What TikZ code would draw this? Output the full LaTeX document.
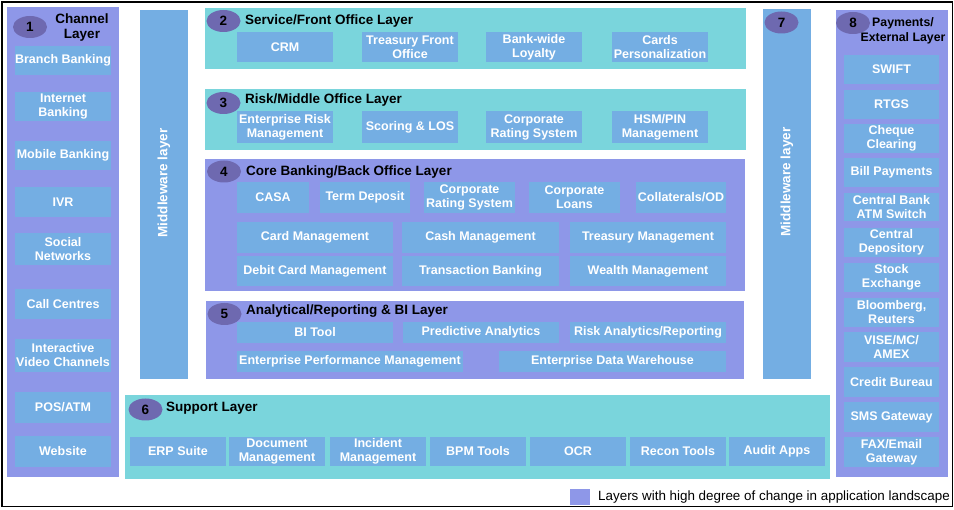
\documentclass[tikz,border=0pt]{standalone}
\usepackage{fontspec}
\setmainfont{Liberation Sans}
\usetikzlibrary{shapes.geometric}
\definecolor{purp}{HTML}{8E97E8}
\definecolor{itemblue}{HTML}{74AEE3}
\definecolor{tealbg}{HTML}{7AD5DC}
\definecolor{badgecol}{HTML}{6E69B0}
\newcommand\itmfont{\bfseries\fontsize{12.5}{14}\selectfont}
\newcommand\ttlfont{\bfseries\fontsize{13.5}{15}\selectfont}
\newcommand\blk[7]{\node[#1, minimum width={#5-#3}, minimum height={#6-#4}] (#2) at ({(#3+#5)/2},{(#4+#6)/2}) {#7};}
\tikzset{
  panel/.style={fill=#1, draw=none, inner sep=0pt},
  itm/.style={fill=itemblue, text=white, font=\itmfont, align=center, inner sep=0pt},
  badge/.style={ellipse, fill=badgecol, minimum width=34pt, minimum height=22pt, inner sep=0pt, font=\ttlfont},
  ttl/.style={anchor=west, font=\ttlfont, inner sep=0pt},
  mwtext/.style={rotate=90, text=white, font=\ttlfont, inner sep=0pt}
}
\begin{document}
\begin{tikzpicture}[x=1pt,y=-1pt]
\useasboundingbox (0,0) rectangle (954,510);
\fill[white] (0,0) rectangle (954,510);
\draw[line width=1.3pt] (2,2) rectangle (952.5,506.5);
% panels
\blk{panel=purp}{channel}{7}{7}{119}{477}{}
\blk{panel=itemblue}{mwleft}{140}{10}{188}{379}{}
\blk{panel=tealbg}{service}{205}{8}{746}{69}{}
\blk{panel=tealbg}{risk}{205}{89}{746}{150}{}
\blk{panel=purp}{core}{205}{159}{745}{291}{}
\blk{panel=purp}{analytic}{206}{301}{744}{379}{}
\blk{panel=tealbg}{support}{125}{395}{830}{479}{}
\blk{panel=itemblue}{mwright}{763}{9}{811}{379}{}
\blk{panel=purp}{payments}{836}{10}{948}{477}{}
% badges
\node[badge] (b1) at (30,27) {1};
\node[badge] (b2) at (223.5,21) {2};
\node[badge] (b3) at (223.5,103) {3};
\node[badge] (b4) at (224,171.5) {4};
\node[badge] (b5) at (224.5,314) {5};
\node[badge] (b6) at (145.5,409.5) {6};
\node[badge] (b7) at (781.5,22.5) {7};
\node[badge] (b8) at (853,23) {8};
% titles
\node[font=\ttlfont, align=center, inner sep=0pt] (t1) at (82,27.5) {Channel\\Layer};
\node[ttl] (t2) at (245,21) {Service/Front Office Layer};
\node[ttl] (t3) at (245,100) {Risk/Middle Office Layer};
\node[ttl] (t4) at (246,172) {Core Banking/Back Office Layer};
\node[ttl] (t5) at (246,311) {Analytical/Reporting \& BI Layer};
\node[ttl] (t6) at (166,408) {Support Layer};
\node[font=\bfseries\fontsize{12.3}{15}\selectfont, align=center, inner sep=0pt] (t8) at (903,30.5) {Payments/\\External Layer};
\node[mwtext] (mwl) at (164,183) {Middleware layer};
\node[mwtext] (mwr) at (787,182) {Middleware layer};
% channel items
\blk{itm}{chBranch}{15}{46}{111}{75}{Branch Banking}
\blk{itm}{chInternet}{15}{92}{111}{121}{Internet\\Banking}
\blk{itm}{chMobile}{15}{141}{111}{170}{Mobile Banking}
\blk{itm}{chIVR}{15}{187}{111}{217}{IVR}
\blk{itm}{chSocial}{15}{233}{111}{265}{Social\\Networks}
\blk{itm}{chCall}{15}{289}{111}{319}{Call Centres}
\blk{itm}{chIVC}{15}{339}{111}{372}{Interactive\\Video Channels}
\blk{itm}{chPOS}{15}{392}{111}{423}{POS/ATM}
\blk{itm}{chWeb}{15}{436}{111}{467}{Website}
% service items
\blk{itm}{svCRM}{237}{32}{333}{62}{CRM}
\blk{itm}{svTFO}{362}{32}{458}{62}{Treasury Front\\Office}
\blk{itm}{svLoy}{486}{32}{582}{62}{Bank-wide\\Loyalty}
\blk{itm}{svCards}{612}{32}{708}{62}{Cards\\Personalization}
% risk items
\blk{itm}{rkERM}{237}{111}{333}{143}{Enterprise Risk\\Management}
\blk{itm}{rkLOS}{362}{111}{458}{143}{Scoring \& LOS}
\blk{itm}{rkCRS}{486}{111}{582}{143}{Corporate\\Rating System}
\blk{itm}{rkHSM}{612}{111}{708}{143}{HSM/PIN\\Management}
% core items
\blk{itm}{cbCASA}{237}{182}{309}{213}{CASA}
\blk{itm}{cbTD}{320}{182}{410}{213}{Term Deposit}
\blk{itm}{cbCRS}{424}{182}{515}{213}{Corporate\\Rating System}
\blk{itm}{cbCL}{529}{182}{620}{213}{Corporate\\Loans}
\blk{itm}{cbCOD}{636}{182}{726}{213}{Collaterals/OD}
\blk{itm}{cbCard}{237}{222}{393}{253}{Card Management}
\blk{itm}{cbCash}{402}{222}{559}{253}{Cash Management}
\blk{itm}{cbTreas}{570}{222}{726}{253}{Treasury Management}
\blk{itm}{cbDebit}{237}{256}{393}{286}{Debit Card Management}
\blk{itm}{cbTxn}{402}{256}{559}{286}{Transaction Banking}
\blk{itm}{cbWealth}{570}{256}{726}{286}{Wealth Management}
% analytical items
\blk{itm}{anBI}{237}{322}{393}{343}{BI Tool}
\blk{itm}{anPA}{403}{322}{559}{343}{Predictive Analytics}
\blk{itm}{anRA}{570}{322}{726}{343}{Risk Analytics/Reporting}
\blk{itm}{anEPM}{237}{351}{463}{372}{Enterprise Performance Management}
\blk{itm}{anEDW}{499}{351}{726}{372}{Enterprise Data Warehouse}
% support items
\blk{itm}{spERP}{130}{437}{226}{466}{ERP Suite}
\blk{itm}{spDoc}{229}{437}{325}{466}{Document\\Management}
\blk{itm}{spInc}{330}{437}{426}{466}{Incident\\Management}
\blk{itm}{spBPM}{430}{437}{526}{466}{BPM Tools}
\blk{itm}{spOCR}{530}{437}{626}{466}{OCR}
\blk{itm}{spRec}{630}{437}{726}{466}{Recon Tools}
\blk{itm}{spAud}{729}{437}{825}{466}{Audit Apps}
% payments items
\blk{itm}{pySWIFT}{844}{55}{939}{84}{SWIFT}
\blk{itm}{pyRTGS}{844}{90}{939}{119}{RTGS}
\blk{itm}{pyCheque}{844}{124}{939}{153}{Cheque\\Clearing}
\blk{itm}{pyBill}{844}{158}{939}{187}{Bill Payments}
\blk{itm}{pyCB}{844}{193}{939}{221}{Central Bank\\ATM Switch}
\blk{itm}{pyCD}{844}{228}{939}{257}{Central\\Depository}
\blk{itm}{pySE}{844}{263}{939}{292}{Stock\\Exchange}
\blk{itm}{pyBR}{844}{298}{939}{327}{Bloomberg,\\Reuters}
\blk{itm}{pyVISE}{844}{332}{939}{362}{VISE/MC/\\AMEX}
\blk{itm}{pyCBu}{844}{367}{939}{397}{Credit Bureau}
\blk{itm}{pySMS}{844}{402}{939}{432}{SMS Gateway}
\blk{itm}{pyFAX}{844}{437}{939}{467}{FAX/Email\\Gateway}
% legend
\blk{panel=purp}{legsq}{570}{489}{590}{505}{}
\node[anchor=west, inner sep=0pt, font=\fontsize{13.4}{15}\selectfont] (legtxt) at (598,497) {Layers with high degree of change in application landscape};
\end{tikzpicture}
\end{document}
